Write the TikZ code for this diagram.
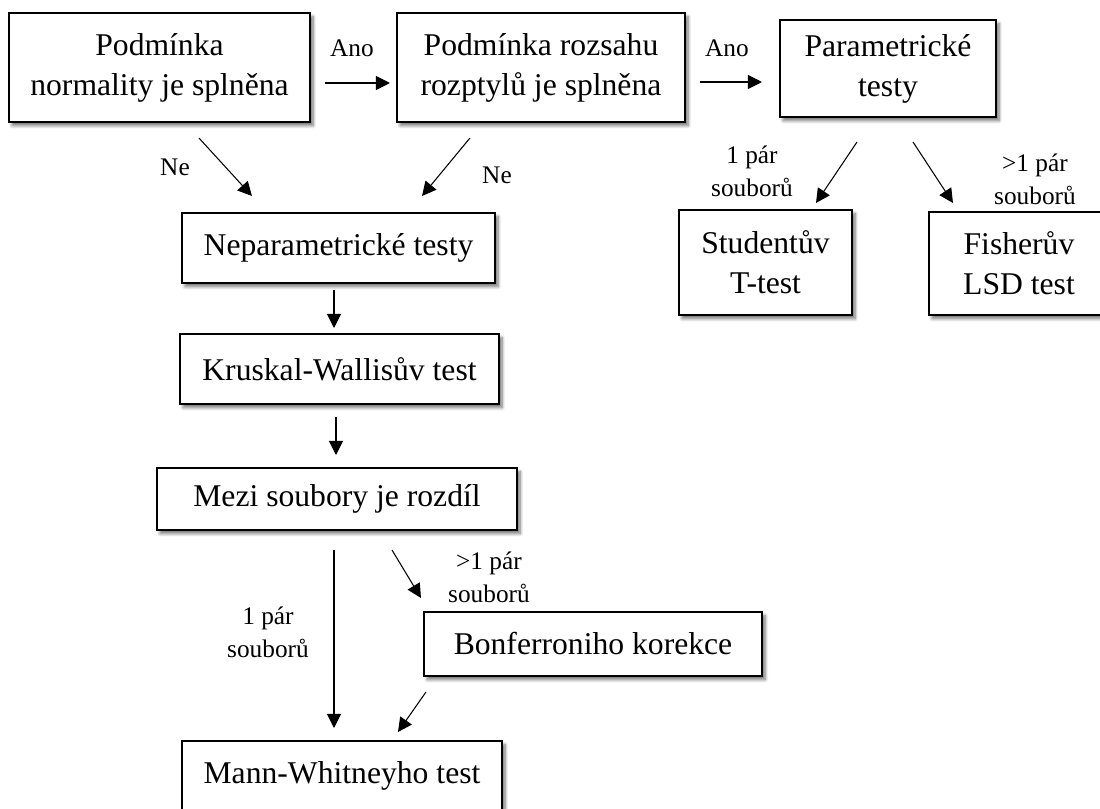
\documentclass[tikz,border=0pt]{standalone}
\usepackage{fontspec}
\setmainfont{Liberation Serif}
\usetikzlibrary{calc,arrows.meta,shadows.blur}
\newcommand\bigf{\fontsize{22.5}{28.5}\selectfont}
\newcommand\smallf{\fontsize{18}{23.5}\selectfont}
\tikzset{
  box/.style={draw, line width=1.1pt, fill=white, inner sep=0pt, outer sep=0pt,
    align=center, font=\bigf,
    blur shadow={shadow xshift=2.2pt, shadow yshift=-2.6pt, shadow blur radius=2.2pt, shadow blur steps=8, shadow opacity=55}},
  lab/.style={inner sep=0pt, align=center, font=\smallf},
  arr/.style={line width=0.75pt, -{Triangle[length=10pt,width=10pt]}}
}
\begin{document}
\begin{tikzpicture}[x=0.025cm,y=-0.025cm]
\useasboundingbox (0,0) rectangle (1100,809);
% boxes
\node[box, minimum width=7.525cm, minimum height=2.725cm] (n1) at (159.5,67.5) {Podmínka\\normality je splněna};
\node[box, minimum width=7.2cm, minimum height=2.725cm] (n2) at (541,67.5) {Podmínka rozsahu\\rozptylů je splněna};
\node[box, minimum width=5.4cm, minimum height=2.425cm] (n3) at (888,68.5) {Parametrické\\testy};
\node[box, minimum width=4.325cm, minimum height=2.625cm] (nS) at (765.5,262.5) {Studentův\\T-test};
\node[box, minimum width=4.5cm, minimum height=2.575cm] (nF) at (1019,263.5) {Fisherův\\LSD test};
\node[box, minimum width=7.825cm, minimum height=1.75cm] (nep) at (338.5,248) {Neparametrické testy};
\node[box, minimum width=7.975cm, minimum height=1.75cm] (kw) at (339.5,369) {Kruskal-Wallisův test};
\node[box, minimum width=9cm, minimum height=1.55cm] (mezi) at (337,499) {Mezi soubory je rozdíl};
\node[box, minimum width=8.45cm, minimum height=1.6cm] (bon) at (593,644) {Bonferroniho korekce};
\node[box, minimum width=8cm, minimum height=1.75cm] (mann) at (342,776) {Mann-Whitneyho test};
% labels
\node[lab] (ano1) at (352,48) {Ano};
\node[lab] (ano2) at (727,48) {Ano};
\node[lab] (ne1) at (175,167) {Ne};
\node[lab] (ne2) at (497,175) {Ne};
\node[lab] (l1) at (752,171) {1 pár\\souborů};
\node[lab] (l2) at (1035,179) {>1 pár\\souborů};
\node[lab] (l3) at (489,577) {>1 pár\\souborů};
\node[lab] (l4) at (268,632) {1 pár\\souborů};
% connectors
\draw[arr] ($(n1.east)+(15,15.5)$) -- ($(n2.west)+(-7,15.5)$);
\draw[arr] ($(n2.east)+(15,14.5)$) -- ($(n3.west)+(-18,13.5)$);
\draw[arr] ($(n1.south west)+(190,16)$) -- ($(nep.north west)+(70,-17)$);
\draw[arr] ($(n2.south west)+(73,16)$) -- ($(nep.north east)+(-73,-17)$);
\draw[arr] ($(n3.south)+(-31,25)$) -- ($(nS.north)+(50.5,-7)$);
\draw[arr] ($(n3.south)+(25,25)$) -- ($(nF.north west)+(24,-9)$);
\draw[arr] ($(nep.south)+(-4.5,7)$) -- ($(kw.north)+(-5.5,-6)$);
\draw[arr] ($(kw.south)+(-3.5,13)$) -- ($(mezi.north)+(-1,-13)$);
\draw[arr] ($(mezi.south)+(-3,20)$) -- ($(mann.north)+(-8,-13)$);
\draw[arr] ($(mezi.south)+(55,20)$) -- ($(bon.north west)+(-3,-14)$);
\draw[arr] ($(bon.south west)+(2,16)$) -- ($(mann.north)+(56,-9)$);
\end{tikzpicture}
\end{document}
